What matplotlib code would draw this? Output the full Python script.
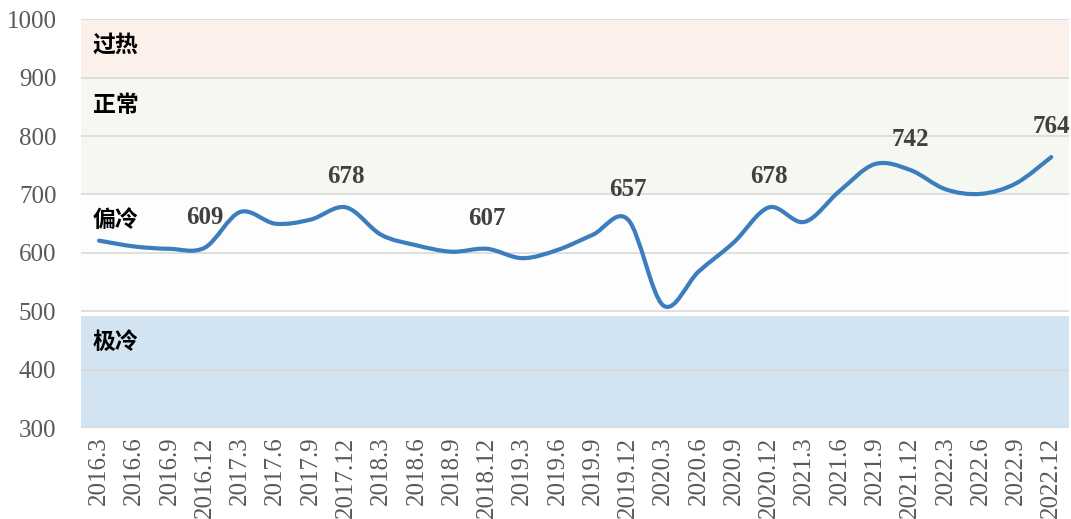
import numpy as np
import matplotlib.pyplot as plt
from matplotlib.path import Path
from matplotlib.patches import PathPatch

plt.rcParams['font.family'] = ['Liberation Serif', 'DejaVu Serif']

quarters = ['2016.3', '2016.6', '2016.9', '2016.12',
            '2017.3', '2017.6', '2017.9', '2017.12',
            '2018.3', '2018.6', '2018.9', '2018.12',
            '2019.3', '2019.6', '2019.9', '2019.12',
            '2020.3', '2020.6', '2020.9', '2020.12',
            '2021.3', '2021.6', '2021.9', '2021.12',
            '2022.3', '2022.6', '2022.9', '2022.12']
values = [621, 611, 607, 609,
          670, 650, 657, 678,
          631, 613, 602, 607,
          591, 605, 631, 657,
          510, 568, 618, 678,
          653, 706, 752, 742,
          709, 701, 719, 764]
labelled = ['2016.12', '2017.12', '2018.12', '2019.12', '2020.12', '2021.12', '2022.12']

bands = [(900, 1000, '#fbf0ea', '过热', 955),
         (700, 900, '#f5f8f1', '正常', 853),
         (495, 700, '#fdfdfd', '偏冷', 656),
         (294, 492, '#d2e3f2', '极冷', 447)]

fig = plt.figure(figsize=(10.71, 5.19), dpi=100)
ax = fig.add_axes([0.076, 0.175, 0.922, 0.788])

x = np.arange(len(values))
y = np.array(values, dtype=float)

for lo, hi, col, name, ty in bands:
    ax.axhspan(lo, hi, color=col, zorder=0, lw=0)
    ax.text(-0.18, ty, name, fontsize=16.5, fontweight='bold', color='black',
            family=['Noto Sans CJK SC', 'DejaVu Sans'], va='center', ha='left', zorder=3)

for g in range(300, 1001, 100):
    ax.axhline(g, color='#d9d9d9', lw=1.2, zorder=1)

# smoothed line like excel (bezier through each point)
verts = [(x[0], y[0])]
codes = [Path.MOVETO]
n = len(x)
for i in range(n - 1):
    p0 = np.array([x[max(i - 1, 0)], y[max(i - 1, 0)]])
    p1 = np.array([x[i], y[i]])
    p2 = np.array([x[i + 1], y[i + 1]])
    p3 = np.array([x[min(i + 2, n - 1)], y[min(i + 2, n - 1)]])
    c1 = p1 + (p2 - p0) / 6.0
    c2 = p2 - (p3 - p1) / 6.0
    verts += [tuple(c1), tuple(c2), tuple(p2)]
    codes += [Path.CURVE4] * 3
ax.add_patch(PathPatch(Path(verts, codes), fill=False, edgecolor='#3b7dbd',
                       lw=3.0, capstyle='round', joinstyle='round', zorder=4))

for q in labelled:
    i = quarters.index(q)
    ax.annotate(str(values[i]), (x[i], y[i]), xytext=(0, 22), textcoords='offset points',
                ha='center', va='center', fontsize=18, fontweight='bold', color='#404040', zorder=5)

ax.set_xlim(-0.5, n - 0.5)
ax.set_ylim(300, 1000)
ax.set_yticks(range(300, 1001, 100))
ax.set_xticks(x)
ax.set_xticklabels(quarters, rotation=90, fontsize=18, color='#595959')
ax.tick_params(axis='y', labelsize=18, labelcolor='#595959', length=0, pad=18)
ax.tick_params(axis='x', length=0, pad=6)
for s in ax.spines.values():
    s.set_visible(False)

fig.savefig('out.png', dpi=100)
